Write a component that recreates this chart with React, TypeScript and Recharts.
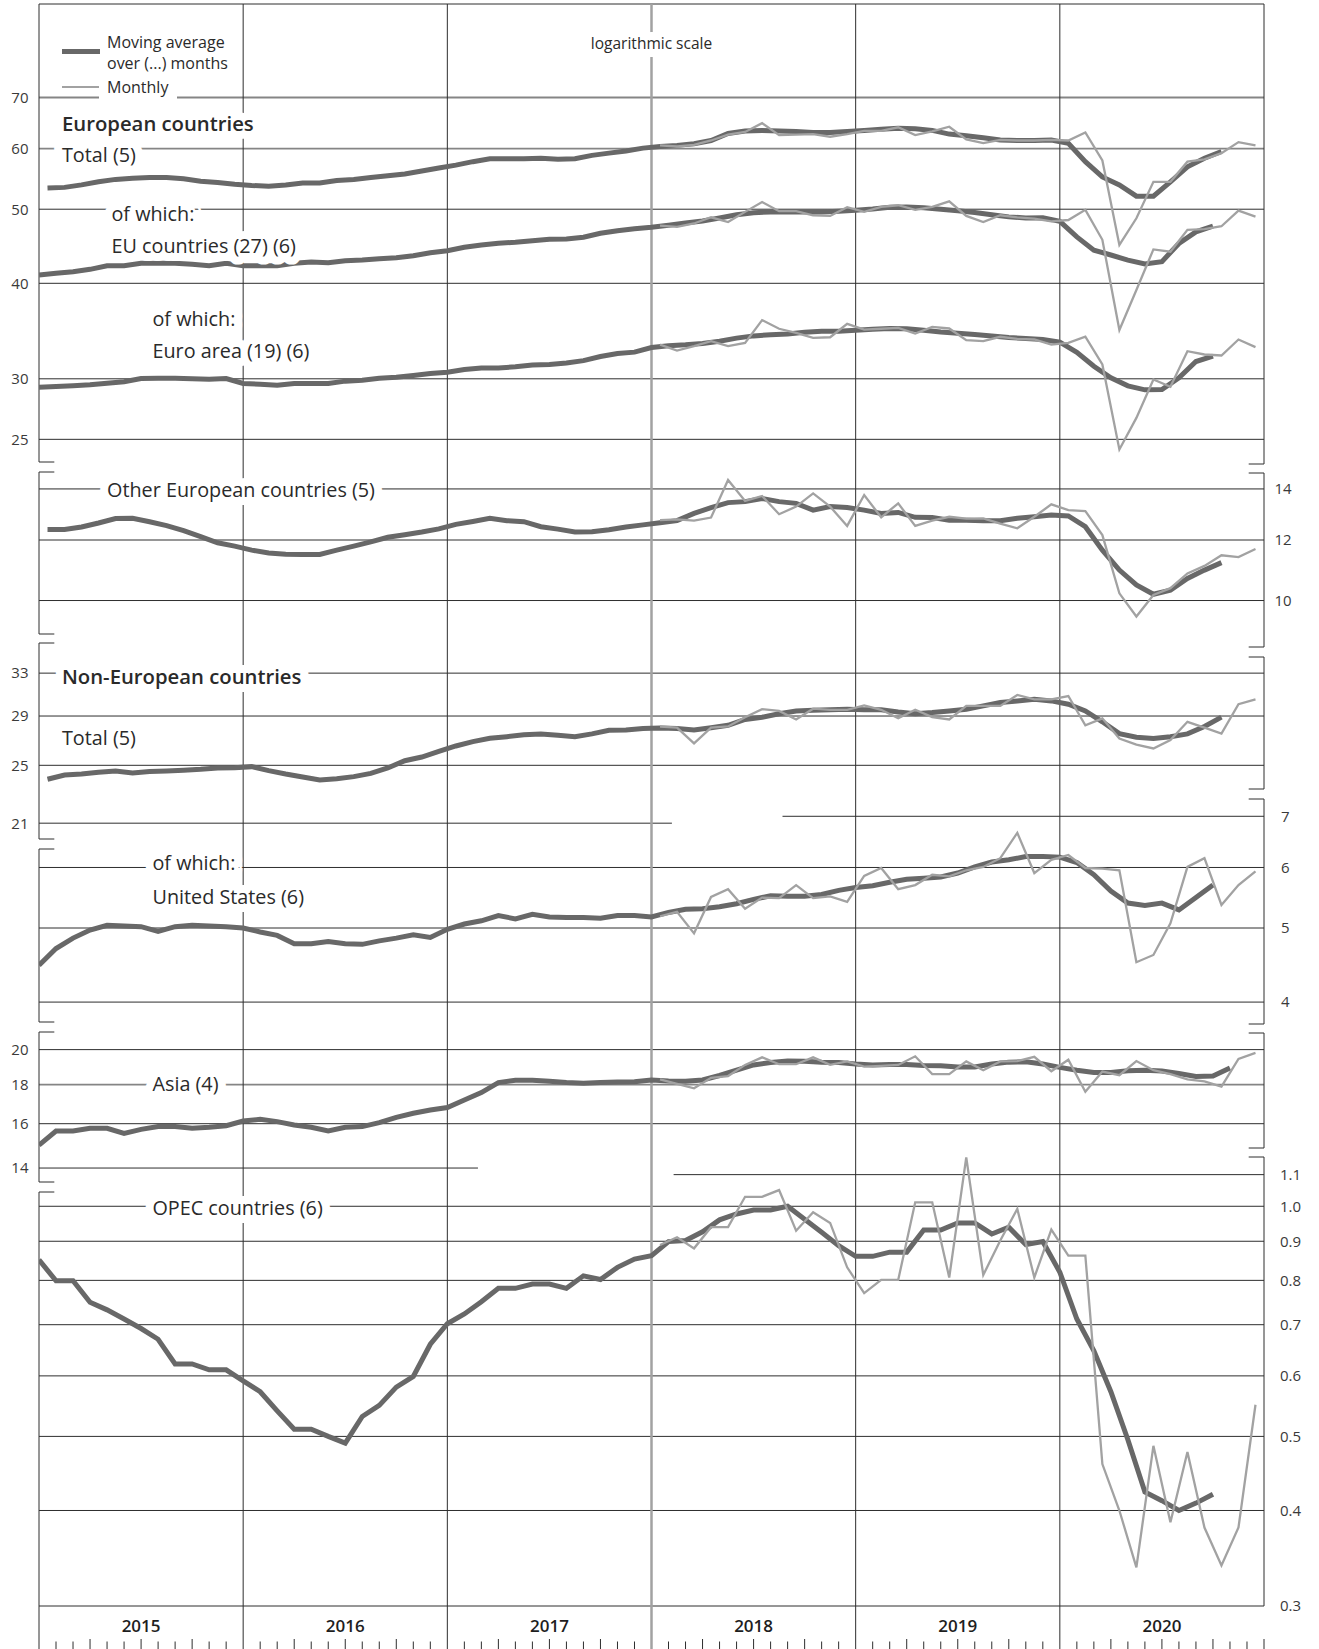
import React from 'react';
import { LineChart, Line, XAxis, YAxis, ReferenceLine, ReferenceDot, Legend } from 'recharts';

const years = ['2015', '2016', '2017', '2018', '2019', '2020'];

// 5-month moving averages, one value per month from Jan 2015 (centred mid-month)
const totalMA = [
  53.3, 53.4, 53.8, 54.3, 54.7, 54.9, 55.0, 55.0, 54.8, 54.4, 54.2, 53.9,
  53.7, 53.6, 53.8, 54.1, 54.1, 54.5, 54.7, 55.0, 55.3, 55.6, 56.1, 56.6,
  57.1, 57.7, 58.2, 58.2, 58.2, 58.3, 58.1, 58.2, 58.8, 59.2, 59.6, 60.1,
  60.4, 60.6, 60.9, 61.5, 62.8, 63.3, 63.4, 63.3, 63.2, 63.0, 63.0, 63.2,
  63.4, 63.6, 63.8, 63.7, 63.4, 62.7, 62.4, 62.0, 61.6, 61.5, 61.5, 61.6,
  61.0, 57.7, 55.1, 53.8, 52.0, 52.0, 54.3, 56.8, 58.3, 59.5,
];
const otherEuMA = [
  12.39, 12.39, 12.48, 12.63, 12.8, 12.81, 12.68, 12.53, 12.34, 12.12, 11.9, 11.78,
  11.64, 11.54, 11.5, 11.49, 11.49, 11.64, 11.78, 11.93, 12.1, 12.19, 12.29, 12.41,
  12.58, 12.69, 12.81, 12.72, 12.68, 12.49, 12.4, 12.29, 12.3, 12.38, 12.48, 12.56,
  12.64, 12.72, 13.0, 13.23, 13.43, 13.47, 13.6, 13.47, 13.4, 13.13, 13.27, 13.23,
  13.13, 13.0, 13.04, 12.85, 12.84, 12.74, 12.74, 12.72, 12.72, 12.81, 12.87, 12.94,
  12.9, 12.49, 11.64, 10.96, 10.48, 10.19, 10.32, 10.69, 10.96, 11.21,
];
const nonEuMA = [
  23.97, 24.28, 24.35, 24.48, 24.58, 24.43, 24.53, 24.58, 24.63, 24.7, 24.8, 24.82,
  24.9, 24.6, 24.35, 24.14, 23.92, 24.01, 24.16, 24.4, 24.8, 25.35, 25.63, 26.07,
  26.5, 26.85, 27.12, 27.25, 27.4, 27.48, 27.37, 27.25, 27.48, 27.78, 27.8, 27.94,
  27.97, 27.94, 27.8, 28.0, 28.2, 28.7, 28.9, 29.2, 29.45, 29.5, 29.55, 29.6,
  29.55, 29.55, 29.35, 29.2, 29.3, 29.45, 29.6, 29.9, 30.2, 30.35, 30.5, 30.35,
  30.05, 29.45, 28.5, 27.5, 27.2, 27.1, 27.25, 27.48, 28.1, 28.9,
];

// 6- and 4-month moving averages, one value per month boundary from 1 Jan 2015
const euMA = [
  41.01, 41.22, 41.42, 41.72, 42.18, 42.18, 42.48, 42.5, 42.48, 42.35, 42.18, 42.48,
  42.18, 42.18, 42.18, 42.48, 42.65, 42.56, 42.82, 42.91, 43.08, 43.2, 43.47, 43.86,
  44.13, 44.58, 44.89, 45.12, 45.26, 45.48, 45.67, 45.71, 45.95, 46.5, 46.87, 47.15,
  47.35, 47.64, 47.97, 48.26, 48.7, 49.18, 49.48, 49.58, 49.6, 49.6, 49.58, 49.69,
  49.84, 50.03, 50.29, 50.34, 50.21, 50.0, 49.76, 49.51, 49.18, 48.86, 48.7, 48.72,
  48.2, 46.0, 44.2, 43.56, 42.9, 42.4, 42.7, 45.1, 46.7, 47.5,
];
const euroMA = [
  29.25, 29.31, 29.37, 29.46, 29.6, 29.73, 30.03, 30.05, 30.05, 30.01, 29.96, 30.03,
  29.58, 29.51, 29.43, 29.58, 29.58, 29.58, 29.79, 29.88, 30.05, 30.14, 30.3, 30.48,
  30.6, 30.85, 31.0, 31.0, 31.1, 31.27, 31.33, 31.46, 31.69, 32.08, 32.38, 32.51,
  32.97, 33.14, 33.23, 33.37, 33.6, 33.91, 34.14, 34.26, 34.33, 34.51, 34.63, 34.63,
  34.72, 34.84, 34.91, 34.88, 34.72, 34.54, 34.41, 34.28, 34.13, 33.97, 33.87, 33.77,
  33.5, 32.5, 31.16, 30.09, 29.37, 29.02, 29.05, 30.09, 31.6, 32.12,
];
const usMA = [
  4.47, 4.7, 4.85, 4.97, 5.04, 5.03, 5.02, 4.95, 5.02, 5.04, 5.03, 5.02,
  5.0, 4.94, 4.89, 4.77, 4.77, 4.8, 4.77, 4.76, 4.81, 4.85, 4.9, 4.86,
  4.98, 5.06, 5.11, 5.19, 5.14, 5.21, 5.17, 5.16, 5.16, 5.15, 5.19, 5.19,
  5.17, 5.24, 5.29, 5.3, 5.33, 5.38, 5.45, 5.51, 5.5, 5.5, 5.53, 5.6,
  5.65, 5.68, 5.74, 5.79, 5.81, 5.83, 5.9, 6.01, 6.1, 6.14, 6.2, 6.2,
  6.19, 6.09, 5.87, 5.59, 5.39, 5.35, 5.39, 5.28, 5.48, 5.69,
];
const asiaMA = [
  15.0, 15.65, 15.65, 15.78, 15.78, 15.54, 15.73, 15.86, 15.86, 15.78, 15.83, 15.9,
  16.13, 16.21, 16.1, 15.94, 15.83, 15.65, 15.83, 15.86, 16.05, 16.31, 16.51, 16.67,
  16.8, 17.18, 17.57, 18.11, 18.24, 18.24, 18.18, 18.11, 18.07, 18.11, 18.14, 18.16,
  18.25, 18.2, 18.18, 18.25, 18.5, 18.8, 19.1, 19.24, 19.33, 19.31, 19.26, 19.24,
  19.15, 19.1, 19.13, 19.13, 19.07, 19.05, 18.98, 18.98, 19.15, 19.26, 19.28, 19.15,
  18.96, 18.79, 18.67, 18.67, 18.77, 18.79, 18.75, 18.61, 18.45, 18.47, 18.92,
];
const opecMA = [
  0.851, 0.799, 0.799, 0.749, 0.732, 0.712, 0.692, 0.67, 0.622, 0.622, 0.611, 0.611,
  0.591, 0.572, 0.54, 0.511, 0.511, 0.5, 0.49, 0.531, 0.549, 0.58, 0.599, 0.66,
  0.702, 0.723, 0.75, 0.781, 0.781, 0.791, 0.791, 0.781, 0.811, 0.802, 0.832, 0.853,
  0.862, 0.899, 0.902, 0.926, 0.96, 0.977, 0.989, 0.989, 1.0, 0.962, 0.925, 0.888,
  0.86, 0.86, 0.871, 0.871, 0.931, 0.931, 0.951, 0.951, 0.92, 0.939, 0.891, 0.899,
  0.82, 0.712, 0.647, 0.572, 0.495, 0.423, 0.412, 0.4, 0.409, 0.42,
];

// monthly values, Jan 2018 to Dec 2020
const totalMonthly = [
  60.6, 60.4, 60.7, 61.5, 62.6, 63.1, 64.8, 62.5, 62.6, 62.7, 62.2, 62.7,
  63.3, 63.3, 64.0, 62.5, 63.2, 64.1, 61.7, 61.0, 61.6, 61.5, 61.5, 61.6,
  61.5, 63.0, 57.9, 44.9, 48.65, 54.3, 54.3, 57.7, 58.1, 59.2, 61.2, 60.6,
];
const euMonthly = [
  47.6, 47.4, 47.9, 48.8, 48.1, 49.6, 51.1, 49.7, 49.7, 49.1, 49.0, 50.3,
  49.6, 50.35, 50.6, 49.9, 50.35, 51.2, 49.0, 48.1, 49.1, 48.8, 48.6, 48.2,
  48.4, 49.9, 45.6, 34.75, 39.2, 44.3, 44.0, 47.0, 47.1, 47.5, 49.8, 48.9,
];
const euroMonthly = [
  33.26, 32.67, 33.1, 33.6, 33.1, 33.43, 35.8, 34.88, 34.46, 33.94, 34.0, 35.4,
  34.8, 34.88, 34.98, 34.39, 35.08, 34.91, 33.7, 33.6, 34.05, 33.84, 33.77, 33.26,
  33.43, 34.05, 31.32, 24.25, 26.67, 29.94, 29.29, 32.6, 32.28, 32.18, 33.77, 33.0,
];
const otherEuMonthly = [
  12.74, 12.77, 12.72, 12.84, 14.38, 13.5, 13.7, 12.97, 13.27, 13.81, 13.27, 12.52,
  13.74, 12.85, 13.4, 12.52, 12.72, 12.87, 12.8, 12.81, 12.61, 12.43, 12.87, 13.36,
  13.13, 13.09, 12.18, 10.22, 9.53, 10.17, 10.38, 10.85, 11.1, 11.46, 11.4, 11.68,
];
const nonEuMonthly = [
  28.1, 28.0, 26.7, 28.0, 28.1, 28.9, 29.6, 29.45, 28.7, 29.65, 29.55, 29.55,
  29.95, 29.55, 28.8, 29.55, 28.9, 28.7, 29.9, 29.9, 29.9, 30.9, 30.5, 30.5,
  30.8, 28.2, 28.8, 27.1, 26.6, 26.3, 26.98, 28.5, 28.0, 27.5, 30.05, 30.5,
];
const usMonthly = [
  5.18, 5.25, 4.92, 5.49, 5.62, 5.3, 5.48, 5.47, 5.69, 5.47, 5.5, 5.41,
  5.85, 5.99, 5.62, 5.69, 5.87, 5.84, 5.95, 6.01, 6.17, 6.66, 5.9, 6.14,
  6.23, 5.99, 5.98, 5.95, 4.51, 4.61, 5.07, 6.01, 6.17, 5.36, 5.69, 5.93,
];
const asiaMonthly = [
  18.29, 18.04, 17.8, 18.37, 18.47, 19.1, 19.54, 19.14, 19.14, 19.54, 19.1, 19.3,
  19.0, 19.04, 19.1, 19.6, 18.58, 18.58, 19.3, 18.8, 19.3, 19.32, 19.57, 18.74,
  19.4, 17.62, 18.72, 18.52, 19.32, 18.8, 18.58, 18.29, 18.18, 17.89, 19.45, 19.8,
];
const opecMonthly = [
  0.89, 0.911, 0.881, 0.939, 0.939, 1.029, 1.029, 1.05, 0.929, 0.982, 0.951, 0.832,
  0.77, 0.801, 0.801, 1.012, 1.012, 0.807, 1.159, 0.813, 0.902, 0.992, 0.807, 0.932,
  0.862, 0.862, 0.46, 0.4, 0.337, 0.486, 0.386, 0.477, 0.38, 0.339, 0.38, 0.55,
];

// ---- layout ----
const W = 1319;
const H = 1649;
const MARGIN = { top: 4, right: 55, bottom: 0, left: 39 };
const X_AXIS_H = 43;
const PLOT_H = H - MARGIN.top - X_AXIS_H;
const PX_PER_LN = 332; // every panel uses the same log scale

const MA_COLOR = '#686868';
const M_COLOR = '#a2a2a2';
const LINE_COLOR = '#2e2e2e';
const TEXT = '#2a2a2a';

// value v sits px below the plot top
const logDomain = (v: number, px: number): [number, number] => [
  v * Math.exp(-(PLOT_H - px) / PX_PER_LN),
  v * Math.exp(px / PX_PER_LN),
];

const panels = [
  { id: 'eur', domain: logDomain(40, 279.3) },
  { id: 'oth', domain: logDomain(12, 536) },
  { id: 'neu', domain: logDomain(25, 761.3) },
  { id: 'us', domain: logDomain(5, 924) },
  { id: 'asia', domain: logDomain(16, 1119.7) },
  { id: 'opec', domain: logDomain(0.3, PLOT_H) },
];
// gap between the right border and the right-hand tick labels
const rightOffset: Record<string, number> = { oth: 10.5, us: 17, opec: 16 };

type Grid = { axis: string; v: number; side: 'left' | 'right'; gray?: boolean; from?: number; to?: number };
const gridLines: Grid[] = [
  { axis: 'eur', v: 70, side: 'left', gray: true },
  { axis: 'eur', v: 60, side: 'left', gray: true },
  { axis: 'eur', v: 50, side: 'left' },
  { axis: 'eur', v: 40, side: 'left' },
  { axis: 'eur', v: 30, side: 'left' },
  { axis: 'eur', v: 25, side: 'left' },
  { axis: 'oth', v: 14, side: 'right', gray: true },
  { axis: 'oth', v: 12, side: 'right' },
  { axis: 'oth', v: 10, side: 'right' },
  { axis: 'neu', v: 33, side: 'left' },
  { axis: 'neu', v: 29, side: 'left' },
  { axis: 'neu', v: 25, side: 'left' },
  { axis: 'neu', v: 21, side: 'left', to: 37.2 },
  { axis: 'us', v: 7, side: 'right', from: 43.7 },
  { axis: 'us', v: 6, side: 'right' },
  { axis: 'us', v: 5, side: 'right' },
  { axis: 'us', v: 4, side: 'right' },
  { axis: 'asia', v: 20, side: 'left' },
  { axis: 'asia', v: 18, side: 'left', gray: true },
  { axis: 'asia', v: 16, side: 'left' },
  { axis: 'asia', v: 14, side: 'left', to: 25.8 },
  { axis: 'opec', v: 1.1, side: 'right', from: 37.3 },
  { axis: 'opec', v: 1.0, side: 'right' },
  { axis: 'opec', v: 0.9, side: 'right' },
  { axis: 'opec', v: 0.8, side: 'right' },
  { axis: 'opec', v: 0.7, side: 'right' },
  { axis: 'opec', v: 0.6, side: 'right' },
  { axis: 'opec', v: 0.5, side: 'right' },
  { axis: 'opec', v: 0.4, side: 'right' },
  { axis: 'opec', v: 0.3, side: 'right' },
];

// frame borders (px from plot top), broken between panels
const leftFrame = [[0, 458], [468, 630], [639, 835], [845, 1018], [1028, 1178], [1188, PLOT_H]];
const rightFrame = [[0, 460], [469, 643], [653, 785], [795, 1020], [1029, 1144], [1153, PLOT_H]];

const notes = [
  { text: 'logarithmic scale', x: 36, y: 39, size: 15.5, anchor: 'middle' },
  { text: 'European countries', x: 1.35, y: 119.3, size: 20.3, bold: true },
  { text: 'Total (5)', x: 1.35, y: 150, size: 19.8 },
  { text: 'of which:', x: 4.26, y: 209.3, size: 19.8 },
  { text: 'EU countries (27) (6)', x: 4.26, y: 241, size: 19.8 },
  { text: 'of which:', x: 6.67, y: 314.3, size: 19.8 },
  { text: 'Euro area (19) (6)', x: 6.67, y: 346, size: 19.8 },
  { text: 'Other European countries (5)', x: 4.0, y: 485.3, size: 19.8 },
  { text: 'Non-European countries', x: 1.35, y: 671.7, size: 20.3, bold: true },
  { text: 'Total (5)', x: 1.35, y: 733.3, size: 19.8 },
  { text: 'of which:', x: 6.67, y: 858.7, size: 19.8 },
  { text: 'United States (6)', x: 6.67, y: 892.7, size: 19.8 },
  { text: 'Asia (4)', x: 6.67, y: 1079.3, size: 19.8 },
  { text: 'OPEC countries (6)', x: 6.67, y: 1203.7, size: 19.8 },
];

const mid = (vals: number[], first: number) => vals.map((v, i) => ({ x: first + i + 0.5, v }));
const edge = (vals: number[]) => vals.map((v, i) => ({ x: i, v }));

const averages = [
  { axis: 'eur', data: mid(totalMA, 0) },
  { axis: 'eur', data: edge(euMA) },
  { axis: 'eur', data: edge(euroMA) },
  { axis: 'oth', data: mid(otherEuMA, 0) },
  { axis: 'neu', data: mid(nonEuMA, 0) },
  { axis: 'us', data: edge(usMA) },
  { axis: 'asia', data: edge(asiaMA) },
  { axis: 'opec', data: edge(opecMA) },
];
const monthly = [
  { axis: 'eur', data: mid(totalMonthly, 36) },
  { axis: 'eur', data: mid(euMonthly, 36) },
  { axis: 'eur', data: mid(euroMonthly, 36) },
  { axis: 'oth', data: mid(otherEuMonthly, 36) },
  { axis: 'neu', data: mid(nonEuMonthly, 36) },
  { axis: 'us', data: mid(usMonthly, 36) },
  { axis: 'asia', data: mid(asiaMonthly, 36) },
  { axis: 'opec', data: mid(opecMonthly, 36) },
];

const monthTicks = Array.from({ length: 73 }, (_, i) => i);

function MonthTick(props: any) {
  const { x, y, payload } = props;
  const v = payload.value as number;
  const yearLine = v % 12 === 0 && v < 72;
  let mark;
  if (yearLine) {
    mark = (
      <line x1={x} x2={x} y1={y} y2={H} stroke={v === 36 ? M_COLOR : LINE_COLOR}
        strokeWidth={v === 36 ? 2.5 : 1} />
    );
  } else {
    const top = v % 3 === 0 ? y + 33 : y + 35.5;
    mark = <line x1={x} x2={x} y1={top} y2={H} stroke={LINE_COLOR} strokeWidth={1} />;
  }
  return (
    <g>
      {mark}
      {v % 12 === 6 && (
        <text x={x} y={y + 19} textAnchor="middle" dominantBaseline="central"
          fontSize={17} fontWeight={600} fill="#1e1e1e">
          {years[Math.floor(v / 12)]}
        </text>
      )}
    </g>
  );
}

function NoteText(props: any) {
  const { cx, cy, note } = props;
  return (
    <text x={cx} y={cy} dominantBaseline="central" textAnchor={note.anchor || 'start'}
      fontSize={note.size} fontWeight={note.bold ? 600 : 400} fill={TEXT}
      stroke="#fff" strokeWidth={16} strokeLinejoin="round" paintOrder="stroke">
      {note.text}
    </text>
  );
}

function LegendBox() {
  const txt: React.CSSProperties = {
    position: 'absolute', left: 45, fontSize: 16, lineHeight: '22px',
    color: TEXT, whiteSpace: 'nowrap', background: '#fff', padding: '0 8px 0 0',
  };
  return (
    <div style={{ position: 'relative', width: 180, height: 72, fontFamily: '"Open Sans", sans-serif' }}>
      <div style={{ position: 'absolute', left: 0, top: 19.3, width: 38, height: 5, background: MA_COLOR }} />
      <div style={{ ...txt, top: 0.7 }}>Moving average</div>
      <div style={{ ...txt, top: 22 }}>over (...) months</div>
      <div style={{ position: 'absolute', left: 0, top: 55.8, width: 38, height: 2.5, background: M_COLOR }} />
      <div style={{ ...txt, top: 46, left: 37, padding: '0 9px 4px 8px' }}>Monthly</div>
    </div>
  );
}

export default function App() {
  return (
    <div style={{ position: 'absolute', left: 0, top: 0, width: W, height: H, background: '#fff',
      fontFamily: '"Open Sans", sans-serif' }}>
      <LineChart width={W} height={H} margin={MARGIN}>
        <XAxis type="number" dataKey="x" domain={[0, 72]} allowDataOverflow ticks={monthTicks}
          interval={0} tickSize={0} tickMargin={0} height={X_AXIS_H} axisLine={false}
          tickLine={false} tick={<MonthTick />} />
        <YAxis yAxisId="frame" type="number" domain={[0, PLOT_H]} reversed hide allowDataOverflow />
        {panels.map((p) => (
          <YAxis key={p.id} yAxisId={p.id} type="number" scale="log" domain={p.domain}
            allowDataOverflow hide />
        ))}

        {/* top border */}
        <ReferenceLine yAxisId="frame" y={0} stroke={LINE_COLOR} ifOverflow="visible" />

        {gridLines.map((g, i) => (
          <ReferenceLine key={`g${i}`} yAxisId={g.axis} ifOverflow="visible"
            segment={[{ x: g.from ?? 0, y: g.v }, { x: g.to ?? 72, y: g.v }]}
            stroke={g.gray ? '#858585' : LINE_COLOR} strokeWidth={g.gray ? 1.8 : 1}
            label={{
              value: g.axis === 'opec' ? g.v.toFixed(1) : String(g.v),
              position: g.side, offset: g.side === 'left' ? 10.5 : rightOffset[g.axis],
              fill: '#3a3a3a', fontSize: 15,
            }} />
        ))}

        {[12, 24, 36, 48, 60].map((m) => (
          <ReferenceLine key={`y${m}`} yAxisId="frame" x={m} ifOverflow="visible"
            stroke={m === 36 ? M_COLOR : LINE_COLOR} strokeWidth={m === 36 ? 2.5 : 1} />
        ))}

        {leftFrame.map(([a, b], i) => (
          <ReferenceLine key={`lf${i}`} yAxisId="frame" ifOverflow="visible" stroke={LINE_COLOR}
            segment={[{ x: 0, y: a }, { x: 0, y: b }]} />
        ))}
        {rightFrame.map(([a, b], i) => (
          <ReferenceLine key={`rf${i}`} yAxisId="frame" ifOverflow="visible" stroke={LINE_COLOR}
            segment={[{ x: 72, y: a }, { x: 72, y: b }]} />
        ))}
        {leftFrame.flat().filter((y) => y > 0 && y < PLOT_H).map((y, i) => (
          <ReferenceLine key={`ls${i}`} yAxisId="frame" ifOverflow="visible" stroke={LINE_COLOR}
            segment={[{ x: 0, y }, { x: 0.9, y }]} />
        ))}
        {rightFrame.flat().filter((y) => y > 0 && y < PLOT_H).map((y, i) => (
          <ReferenceLine key={`rs${i}`} yAxisId="frame" ifOverflow="visible" stroke={LINE_COLOR}
            segment={[{ x: 71.1, y }, { x: 72, y }]} />
        ))}

        {averages.map((s, i) => (
          <Line key={`ma${i}`} yAxisId={s.axis} data={s.data} dataKey="v" type="linear"
            stroke={MA_COLOR} strokeWidth={5} dot={false} activeDot={false}
            isAnimationActive={false} />
        ))}
        {monthly.map((s, i) => (
          <Line key={`m${i}`} yAxisId={s.axis} data={s.data} dataKey="v" type="linear"
            stroke={M_COLOR} strokeWidth={2.3} dot={false} activeDot={false}
            isAnimationActive={false} />
        ))}

        {notes.map((n, i) => (
          <ReferenceDot key={`n${i}`} yAxisId="frame" x={n.x} y={n.y} ifOverflow="visible"
            shape={(p: any) => <NoteText {...p} note={n} />} />
        ))}

        <Legend layout="horizontal" verticalAlign="middle" align="center"
          wrapperStyle={{ left: 62, top: 30, width: 'auto' }} content={<LegendBox />} />
      </LineChart>
    </div>
  );
}
